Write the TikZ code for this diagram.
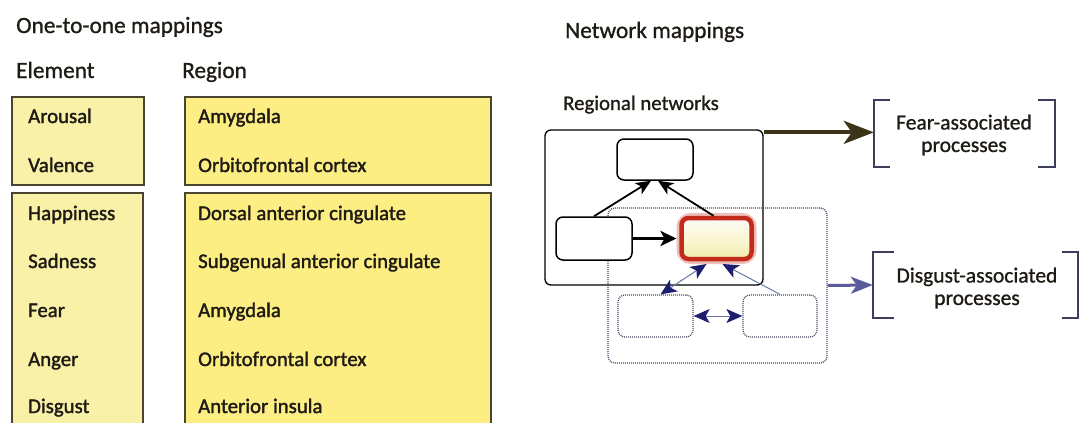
\documentclass[tikz,border=0pt]{standalone}
\usepackage{fontspec}
\setmainfont{Carlito}
\newfontfamily\heavyfont{Carlito}[FakeBold=1.6]
\newfontfamily\midfont{Carlito}[FakeBold=1.0]
\usetikzlibrary{arrows.meta}

\definecolor{boxline}{HTML}{4A4530}
\definecolor{elfill}{HTML}{FAF1A8}
\definecolor{regfill}{HTML}{FDEE84}
\definecolor{fearline}{HTML}{3B3418}
\definecolor{disgline}{HTML}{5B5B9B}
\definecolor{brkline}{HTML}{3D3D5C}
\definecolor{dotline}{HTML}{4D4D6A}
\definecolor{linkblue}{HTML}{6878A4}
\definecolor{tipblue}{HTML}{1C1F70}
\definecolor{hubred}{HTML}{C42A1C}
\definecolor{inkdark}{HTML}{1E1A14}

\tikzset{
  btip/.tip={Stealth[length=16pt,width=14pt,inset=4pt,color=tipblue]},
  title/.style={font=\midfont\fontsize{23.3}{27}\selectfont, text=inkdark, anchor=base west, inner sep=0},
  head/.style={font=\midfont\fontsize{23.3}{27}\selectfont, text=inkdark, anchor=base west, inner sep=0},
  cell/.style={font=\heavyfont\fontsize{20.8}{24}\selectfont, text=inkdark, anchor=base west, inner sep=0},
  elbox/.style={draw=boxline, line width=1.8pt, fill=elfill, inner sep=0},
  regbox/.style={draw=boxline, line width=1.8pt, fill=regfill, inner sep=0},
  netbox/.style={draw=black, line width=1.5pt, rounded corners=7pt, inner sep=0, fill=white},
  dotbox/.style={draw=dotline, line width=1.3pt, dash pattern=on 1pt off 1pt, rounded corners=7pt, inner sep=0},
  group/.style={draw=black, line width=1.3pt, rounded corners=6pt, inner sep=0},
  link/.style={draw=black, line width=1.8pt, -{Stealth[length=15pt,width=13pt,inset=4pt]}},
  biglink/.style={draw=black, line width=3pt, -{Stealth[length=16pt,width=15pt,inset=4pt]}},
  bluelink/.style={draw=linkblue, line width=1pt},
  brk/.style={draw=brkline, line width=1.8pt},
  brtext/.style={font=\midfont\fontsize{21.5}{22.5}\selectfont, text=inkdark, align=center, inner sep=0},
}

\begin{document}
\begin{tikzpicture}[x=1pt,y=-1pt]
\useasboundingbox (0,0) rectangle (1085,423);
\clip (0,0) rectangle (1085,423);

% ---- one-to-one mappings table ----
\node[title] (t1) at (16,33) {One-to-one mappings};
\node[head] (hel) at (16,78) {Element};
\node[head] (hreg) at (182,78) {Region};

\node[elbox, minimum width=132, minimum height=88] (el1) at (78,141) {};
\node[regbox, minimum width=306, minimum height=88] (reg1) at (338,141) {};
\node[elbox, minimum width=131, minimum height=250] (el2) at (77.5,318) {};
\node[regbox, minimum width=306, minimum height=250] (reg2) at (338,318) {};

\node[cell] (arousal) at (28,123) {Arousal};
\node[cell] (valence) at (28,172) {Valence};
\node[cell] (happy) at (28,220) {Happiness};
\node[cell] (sad) at (28,268) {Sadness};
\node[cell] (fear) at (28,317) {Fear};
\node[cell] (anger) at (28,366) {Anger};
\node[cell] (disgust) at (28,413) {Disgust};

\node[cell] (r1) at (198,123) {Amygdala};
\node[cell] (r2) at (198,172) {Orbitofrontal cortex};
\node[cell] (r3) at (198,220) {Dorsal anterior cingulate};
\node[cell] (r4) at (198,268) {Subgenual anterior cingulate};
\node[cell] (r5) at (198,317) {Amygdala};
\node[cell] (r6) at (198,366) {Orbitofrontal cortex};
\node[cell] (r7) at (198,413) {Anterior insula};

% ---- network mappings ----
\node[title] (t2) at (565,38) {Network mappings};
\node[cell, font=\midfont\fontsize{20.8}{24}\selectfont] (rn) at (563,110) {Regional networks};

% groups
\node[group, minimum width=218, minimum height=155] (solid) at (654,207.5) {};
\node[dotbox, minimum width=219, minimum height=155] (dotted) at (717.5,285.5) {};

% regions
\node[netbox, minimum width=76, minimum height=41] (top) at (655,159.5) {};
\node[netbox, minimum width=76, minimum height=43] (left) at (594,238.5) {};
\node[dotbox, fill=white, minimum width=75, minimum height=42] (bl) at (655.5,316) {};
\node[dotbox, fill=white, minimum width=74, minimum height=42] (br) at (780,316) {};

% hub region with glowing border
\node[draw=hubred!30, line width=10pt, rounded corners=9pt, inner sep=0,
      minimum width=70, minimum height=41] (hubglow) at (716.5,238.5) {};
\node[draw=hubred, line width=4.5pt, rounded corners=7pt, inner sep=0,
      top color={rgb,255:red,250;green,250;blue,246}, bottom color={rgb,255:red,238;green,236;blue,170},
      middle color={rgb,255:red,252;green,246;blue,214},
      minimum width=70, minimum height=41] (hub) at (716.5,238.5) {};

% connections within the networks
\draw[link] (left.north) -- ([xshift=-4pt]top.south);
\draw[link] ([xshift=-3pt]hub.north) -- ([xshift=3pt]top.south);
\draw[biglink] (left.east) -- (hubglow.west);

\draw[bluelink, btip-btip]
  ([xshift=5pt]bl.north) -- ([xshift=-10pt]hubglow.south);
\draw[bluelink, -btip]
  (br.north) -- ([xshift=6pt]hubglow.south);
\draw[bluelink, btip-btip]
  (bl.east) -- (br.west);

% associated processes
\node[minimum width=181, minimum height=67, inner sep=0] (fearbr) at (964.5,133.5) {};
\node[minimum width=205, minimum height=66, inner sep=0] (disgbr) at (975.5,285) {};

\draw[brk] ([xshift=16pt]fearbr.north west) -- (fearbr.north west) -- (fearbr.south west) -- ([xshift=16pt]fearbr.south west);
\draw[brk] ([xshift=-17pt]fearbr.north east) -- (fearbr.north east) -- (fearbr.south east) -- ([xshift=-17pt]fearbr.south east);
\draw[brk] ([xshift=21pt]disgbr.north west) -- (disgbr.north west) -- (disgbr.south west) -- ([xshift=21pt]disgbr.south west);
\draw[brk] ([xshift=-16pt]disgbr.north east) -- (disgbr.north east) -- (disgbr.south east) -- ([xshift=-16pt]disgbr.south east);

\node[brtext] (feartxt) at (964,135) {Fear-associated\\processes};
\node[brtext] (disgtxt) at (977,288) {Disgust-associated\\processes};

\coordinate (fearout) at ([yshift=-3pt]solid.north east);
\draw[draw=fearline, line width=4pt, -{Stealth[length=30pt,width=23pt,inset=8pt]}]
  (fearout) -- (fearbr.west |- fearout);
\draw[draw=disgline, line width=3pt, -{Stealth[length=22pt,width=17pt,inset=6pt]}]
  (dotted.east) -- (disgbr.west);
\end{tikzpicture}
\end{document}
